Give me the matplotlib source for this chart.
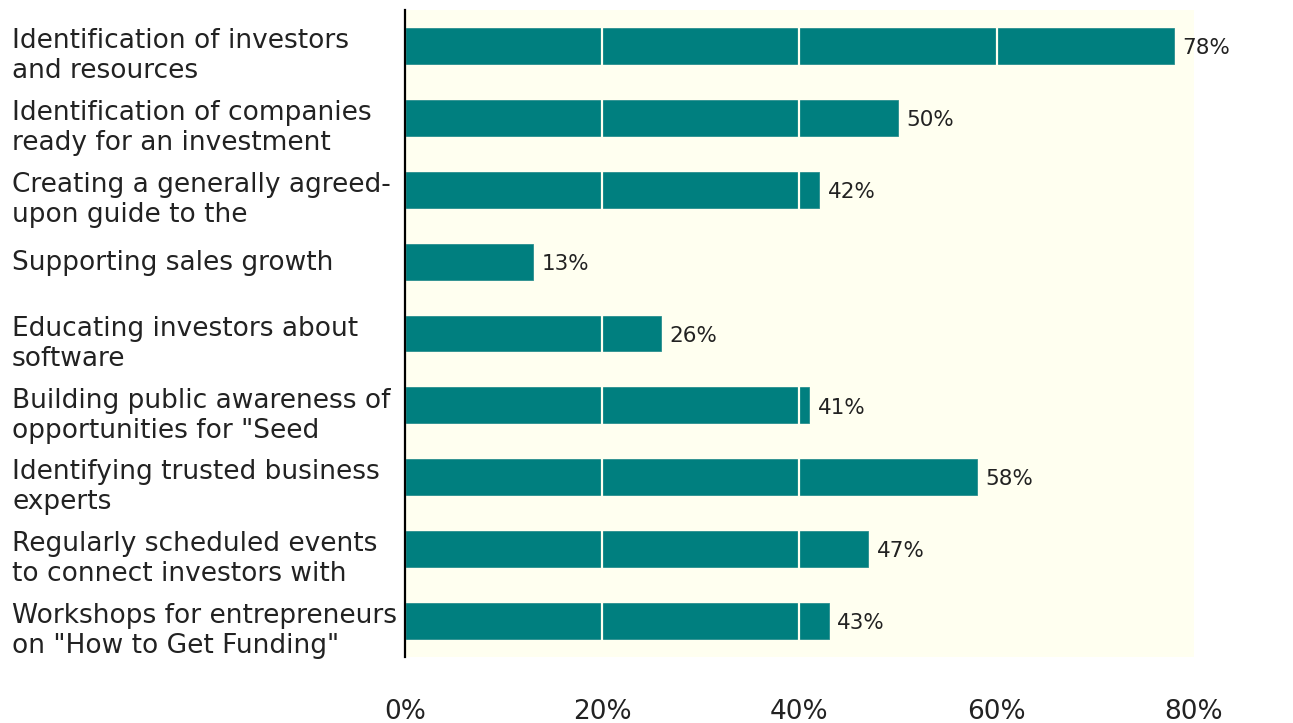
import matplotlib
matplotlib.use("Agg")
import matplotlib.pyplot as plt
import matplotlib.transforms as mtransforms
from matplotlib.ticker import FuncFormatter

# data
labels = [
    ["Identification of investors", "and resources"],
    ["Identification of companies", "ready for an investment"],
    ["Creating a generally agreed-", "upon guide to the"],
    ["Supporting sales growth"],
    ["Educating investors about", "software"],
    ["Building public awareness of", "opportunities for \"Seed"],
    ["Identifying trusted business", "experts"],
    ["Regularly scheduled events", "to connect investors with"],
    ["Workshops for entrepreneurs", "on \"How to Get Funding\""],
]
values = [78, 50, 42, 13, 26, 41, 58, 47, 43]
xticks = [0, 20, 40, 60, 80]

bar_color = "#007f7f"
bg_color = "#fffff0"
text_color = "#222222"

fig = plt.figure(figsize=(12.93, 7.23), dpi=100)
ax = fig.add_axes([0.3132, 0.0913, 0.6102, 0.8949])
ax.set_facecolor(bg_color)

ypos = list(range(len(values)))
ax.barh(ypos, values, height=0.5, color=bar_color, edgecolor="#2a8f8f",
        linewidth=0.6, zorder=2)

ax.set_xlim(0, 80)
ax.set_ylim(len(values) - 0.5, -0.5)
ax.set_xticks(xticks)
ax.xaxis.set_major_formatter(FuncFormatter(lambda v, p: f"{v:.0f}%"))
ax.tick_params(axis="x", length=0, pad=30, labelsize=19, labelcolor=text_color)
ax.set_yticks([])

# grid only shows up across the bars
ax.grid(axis="x", color=bg_color, linewidth=1.6, zorder=3)
ax.set_axisbelow(False)
for s in ["top", "right", "bottom"]:
    ax.spines[s].set_visible(False)
ax.spines["left"].set_color("black")
ax.spines["left"].set_linewidth(1.6)
ax.spines["left"].set_zorder(4)

# value labels
for y, v in zip(ypos, values):
    ax.text(v + 0.85, y + 0.03, f"{v}%", va="center", ha="left",
            fontsize=15.5, color=text_color, zorder=5)

# category labels, left aligned at the figure edge
trans = mtransforms.blended_transform_factory(fig.transFigure, ax.transData)
for y, lines in zip(ypos, labels):
    if len(lines) == 1:
        starts = [y + 0.11]
    else:
        starts = [y + 0.03 + k * 0.417 for k in range(len(lines))]
    for yy, line in zip(starts, lines):
        fig.text(12 / 1293, yy, line, transform=trans, ha="left",
                 va="baseline", fontsize=19, color=text_color)

fig.savefig("out.png", dpi=100, facecolor="white")
